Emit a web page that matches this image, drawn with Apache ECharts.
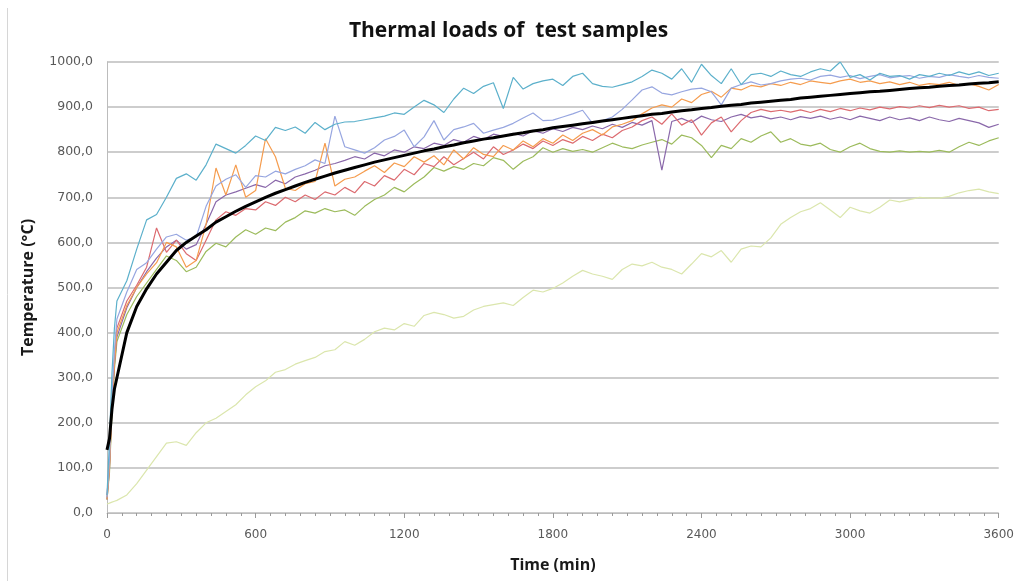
<!DOCTYPE html>
<html>
<head>
<meta charset="utf-8">
<title>Thermal loads of test samples</title>
<script src="https://cdn.jsdelivr.net/npm/echarts@6/dist/echarts.min.js"></script>
<style>
  html, body { margin: 0; padding: 0; background: #fff; }
  #chart { width: 1017px; height: 581px; }
</style>
</head>
<body>
<div id="chart"></div>
<script>
// time axis (s): a few early samples, then every 40 s
const time = [0, 10, 20, 30,
  40, 80, 120, 160, 200, 240, 280, 320, 360, 400,
  440, 480, 520, 560, 600, 640, 680, 720, 760, 800,
  840, 880, 920, 960, 1000, 1040, 1080, 1120, 1160, 1200,
  1240, 1280, 1320, 1360, 1400, 1440, 1480, 1520, 1560, 1600,
  1640, 1680, 1720, 1760, 1800, 1840, 1880, 1920, 1960, 2000,
  2040, 2080, 2120, 2160, 2200, 2240, 2280, 2320, 2360, 2400,
  2440, 2480, 2520, 2560, 2600, 2640, 2680, 2720, 2760, 2800,
  2840, 2880, 2920, 2960, 3000, 3040, 3080, 3120, 3160, 3200,
  3240, 3280, 3320, 3360, 3400, 3440, 3480, 3520, 3560, 3600];

const standardCurve = [140, 165, 230, 275,
  300, 400, 458, 497, 530, 556, 582, 600, 614, 628,
  645, 657, 669, 680, 690, 700, 709, 717, 725, 733,
  740, 747, 754, 760, 766, 772, 778, 783, 788, 793,
  798, 803, 807, 812, 816, 821, 825, 829, 832, 836,
  840, 843, 847, 850, 854, 857, 860, 863, 866, 869,
  872, 875, 878, 881, 884, 886, 889, 892, 894, 897,
  899, 902, 904, 906, 909, 911, 913, 915, 917, 920,
  922, 924, 926, 928, 930, 932, 934, 935, 937, 939,
  941, 943, 944, 946, 948, 949, 951, 953, 954, 956];

const sampleCyan = [40, 160, 310, 410,
  470, 515, 585, 650, 662, 700, 742, 752, 738, 772,
  818, 808, 798, 815, 836, 826, 855, 848, 856, 842,
  866, 850, 862, 867, 868, 872, 876, 880, 887, 884,
  900, 915, 905, 888, 918, 942, 930, 946, 954, 897,
  966, 940, 952, 958, 962, 948, 968, 975, 952, 946,
  944, 950, 956, 968, 982, 975, 962, 985, 955, 995,
  970, 952, 985, 950, 972, 975, 968, 980, 972, 968,
  978, 985, 980, 1000, 966, 972, 960, 975, 968, 970,
  962, 972, 968, 975, 970, 978, 972, 978, 970, 975];

const sampleBlue = [35, 120, 260, 360,
  430, 490, 540, 555, 585, 612, 618, 605, 612, 680,
  725, 740, 750, 722, 748, 745, 758, 752, 762, 770,
  783, 775, 880, 812, 805, 798, 810, 827, 835, 849,
  812, 834, 870, 827, 850, 856, 864, 842, 849, 855,
  864, 876, 887, 870, 871, 878, 885, 893, 864, 870,
  878, 895, 916, 938, 945, 931, 927, 934, 940, 942,
  934, 905, 942, 950, 956, 949, 952, 958, 962, 964,
  960, 968, 971, 966, 970, 963, 968, 972, 965, 968,
  970, 964, 968, 966, 972, 968, 965, 970, 966, 964];

const sampleOrange = [30, 100, 230, 330,
  400, 460, 500, 530, 555, 600, 590, 545, 560, 640,
  765, 705, 772, 700, 715, 830, 790, 720, 715, 730,
  735, 820, 725, 740, 745, 758, 770, 755, 776, 768,
  790, 778, 792, 772, 805, 785, 810, 795, 790, 815,
  805, 825, 812, 830, 820, 838, 826, 842, 850, 838,
  856, 862, 870, 885, 898, 905, 900, 918, 910, 928,
  935, 922, 942, 938, 948, 945, 952, 948, 955, 950,
  958, 955, 952, 958, 962, 955, 958, 952, 956, 950,
  955, 948, 952, 950, 955, 948, 952, 946, 938, 950];

const sampleRed = [40, 110, 250, 340,
  410, 470, 505, 545, 632, 578, 605, 575, 560, 605,
  650, 668, 660, 675, 672, 690, 682, 700, 690, 705,
  695, 712, 705, 722, 710, 735, 725, 748, 738, 762,
  750, 775, 768, 790, 772, 786, 800, 785, 812, 795,
  805, 818, 808, 825, 815, 828, 820, 835, 826, 840,
  832, 848, 856, 870, 878, 862, 885, 860, 872, 838,
  865, 878, 845, 870, 888, 895, 890, 893, 889, 894,
  888, 895, 890, 897, 892, 898, 894, 900, 896, 901,
  898, 903, 899, 904, 900, 903, 897, 900, 892, 895];

const samplePurple = [30, 100, 240, 330,
  390, 455, 500, 535, 565, 590, 605, 585, 595, 640,
  690, 705, 712, 720, 728, 722, 738, 730, 745, 752,
  760, 770, 775, 782, 790, 785, 798, 792, 805, 800,
  812, 808, 820, 815, 828, 822, 835, 828, 840, 835,
  842, 836, 848, 842, 852, 846, 855, 850, 858, 852,
  862, 855, 866, 860, 870, 760, 868, 875, 866, 880,
  872, 868, 878, 884, 876, 880, 874, 878, 872, 879,
  875, 880, 873, 878, 872, 880, 875, 870, 878, 872,
  876, 870, 878, 872, 868, 875, 870, 865, 855, 862];

const sampleGreen = [30, 90, 220, 320,
  380, 440, 480, 510, 540, 570, 560, 535, 545, 580,
  598, 590, 612, 628, 618, 632, 626, 645, 655, 670,
  665, 675, 668, 672, 660, 680, 695, 705, 722, 712,
  730, 745, 766, 758, 768, 762, 775, 770, 788, 782,
  762, 780, 790, 810, 800, 808, 802, 806, 800, 810,
  820, 812, 808, 816, 822, 828, 818, 838, 832, 815,
  788, 815, 808, 830, 822, 836, 845, 822, 830, 818,
  814, 820, 806, 800, 812, 820, 808, 802, 800, 803,
  800, 802, 800, 804, 800, 812, 822, 815, 825, 832];

const sampleLight = [20, 22, 24, 26,
  28, 40, 65, 95, 125, 155, 158, 150, 178, 200,
  210, 225, 240, 262, 280, 293, 312, 318, 330, 338,
  345, 358, 362, 380, 372, 385, 402, 410, 406, 420,
  414, 438, 445, 440, 432, 436, 450, 458, 462, 466,
  460, 478, 494, 490, 498, 510, 525, 538, 530, 525,
  518, 540, 552, 548, 556, 545, 540, 530, 552, 575,
  568, 582, 556, 585, 592, 590, 610, 640, 655, 668,
  675, 688, 672, 655, 678, 670, 665, 678, 694, 690,
  695, 700, 698, 698, 702, 710, 715, 718, 712, 708];

const yFormat = (v) => v.toFixed(1).replace('.', ',');

function line(name, values, color, width) {
  return {
    name: name,
    type: 'line',
    showSymbol: false,
    symbol: 'none',
    data: time.map((t, i) => [t, values[i]]),
    lineStyle: { color: color, width: width },
    itemStyle: { color: color },
    z: width > 2 ? 5 : 2
  };
}

const chart = echarts.init(document.getElementById('chart'));
chart.setOption({
  animation: false,
  backgroundColor: '#ffffff',
  title: {
    text: 'Thermal loads of  test samples',
    left: 'center',
    top: 16,
    textStyle: { fontFamily: 'Open Sans', fontSize: 21, fontWeight: 'bold', color: '#111' }
  },
  graphic: [{
    type: 'line',
    shape: { x1: 7.5, y1: 8, x2: 7.5, y2: 581 },
    style: { stroke: '#d6d6d6', lineWidth: 1 }
  }],
  grid: { left: 107, right: 17, top: 62, bottom: 68 },
  xAxis: {
    type: 'value',
    min: 0,
    max: 3600,
    interval: 600,
    name: 'Time (min)',
    nameLocation: 'middle',
    nameGap: 44,
    nameTextStyle: { fontFamily: 'Open Sans', fontSize: 16, fontWeight: 'bold', color: '#1a1a1a' },
    axisLine: { lineStyle: { color: '#bcbcbc', width: 1 } },
    axisTick: { show: true, length: 5, lineStyle: { color: '#9a9a9a' } },
    minorTick: { show: true, splitNumber: 10, length: 3, lineStyle: { color: '#9a9a9a' } },
    splitLine: { show: false },
    axisLabel: {
      fontFamily: 'DejaVu Sans', fontSize: 12, color: '#595959', margin: 16,
      formatter: (v) => String(v)
    }
  },
  yAxis: {
    type: 'value',
    min: 0,
    max: 1000,
    interval: 100,
    name: 'Temperature (°C)',
    nameLocation: 'middle',
    nameGap: 71,
    nameTextStyle: { fontFamily: 'Open Sans', fontSize: 16, fontWeight: 'bold', color: '#1a1a1a' },
    axisLine: { show: true, lineStyle: { color: '#bcbcbc', width: 1 } },
    axisTick: { show: false },
    splitLine: { lineStyle: { color: '#cdcdcd', width: 2 } },
    axisLabel: { fontFamily: 'DejaVu Sans', fontSize: 12.5, color: '#595959', margin: 14, formatter: yFormat }
  },
  series: [
    line('Sample 7', sampleLight, '#dbe6ad', 1.2),
    line('Sample 6', sampleGreen, '#9cbb5c', 1.2),
    line('Sample 5', samplePurple, '#8a68aa', 1.2),
    line('Sample 4', sampleRed, '#dc6b70', 1.2),
    line('Sample 3', sampleOrange, '#f59c4e', 1.2),
    line('Sample 2', sampleBlue, '#97a6e0', 1.2),
    line('Sample 1', sampleCyan, '#5cb0cb', 1.2),
    line('Standard curve', standardCurve, '#000000', 3)
  ]
});
</script>
</body>
</html>
